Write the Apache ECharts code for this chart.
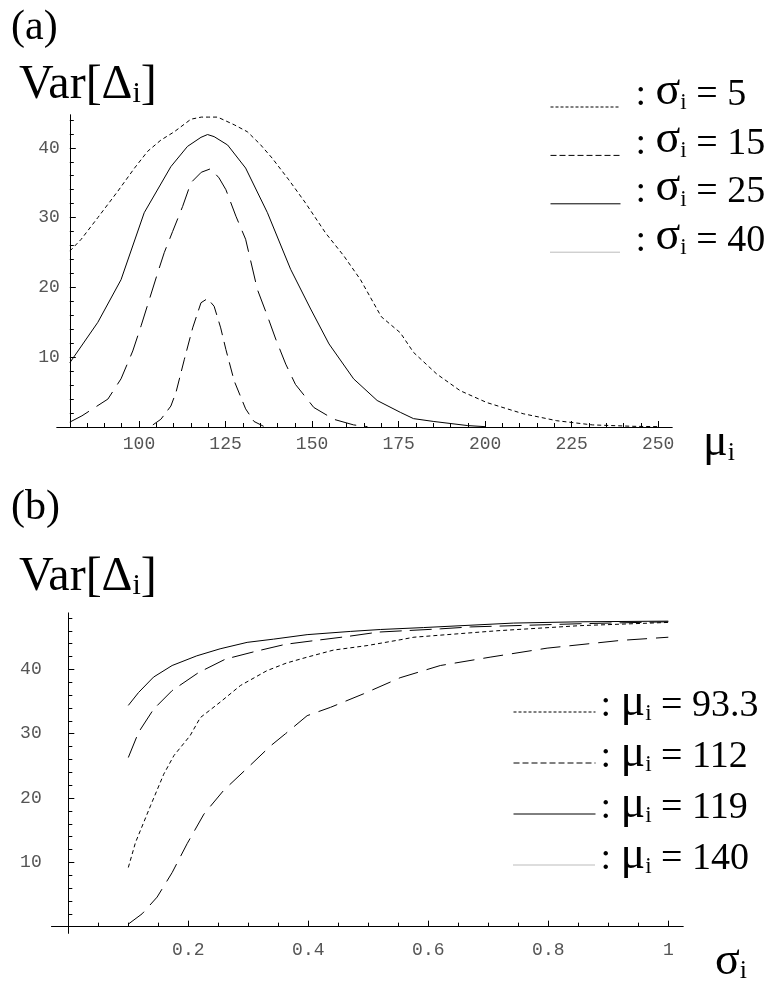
<!DOCTYPE html>
<html><head><meta charset="utf-8">
<script src="https://cdn.jsdelivr.net/npm/echarts@6/dist/echarts.min.js"></script>
<style>html,body{margin:0;padding:0;background:#fff}#c{width:776px;height:983px}</style>
</head><body><div id="c"></div>
<script>
// ---------- (a) Var[Δi] versus μi ----------
const muA_s5  = [80, 83.3, 88.1, 93.9, 98.7, 102.5, 106.3, 110.2, 115, 118, 120, 122.7, 127.5, 131.3, 135, 138.5, 143.3, 148.1, 153.9, 159.2, 164, 170, 175.5, 179.3, 186, 192.8, 200.5, 211, 220.7, 231, 242.7, 250];
const varA_s5 = [25.2, 26.9, 30.0, 33.8, 37.1, 39.5, 41.1, 42.3, 44.1, 44.4, 44.4, 44.4, 43.3, 42.3, 40.5, 38.5, 35.4, 32.1, 27.8, 24.5, 21.1, 15.8, 13.5, 10.7, 7.6, 5.2, 3.5, 1.9, 0.9, 0.3, 0.1, 0.05];
const muA_s15  = [104, 106.3, 109.2, 110.7, 113.1, 115.5, 117.9, 119.8, 121.7, 123.6, 125.1, 127.5, 130.8, 133.2, 136];
const varA_s15 = [0.3, 1.1, 3.0, 5.0, 9.7, 14.2, 17.8, 18.4, 17.3, 14.2, 11.1, 6.6, 2.6, 0.8, 0.1];
const muA_s25  = [80, 88.1, 94.8, 101.5, 109.2, 114, 117.9, 119.8, 121.7, 125.6, 130.8, 137.1, 143.8, 149.6, 154.9, 162, 168.8, 175.5, 179.3, 185, 195, 200];
const varA_s25 = [9.2, 15.0, 21.1, 30.7, 37.3, 40.2, 41.5, 41.9, 41.6, 40.4, 37.1, 30.7, 22.6, 16.9, 11.9, 6.9, 3.8, 2.1, 1.2, 0.8, 0.2, 0.05];
const muA_s40  = [80, 83.5, 91, 94.8, 98.2, 100.6, 103, 105.4, 107.3, 109.7, 112.6, 115, 118, 120.7, 123.1, 125.1, 128, 130.8, 134.2, 137.1, 139.5, 142.4, 145.2, 150.5, 156.3, 162, 166];
const varA_s40 = [0.7, 1.6, 4.0, 6.9, 10.9, 14.5, 18.3, 22.1, 25.0, 28.0, 31.6, 35.0, 36.5, 37.0, 35.7, 34.0, 30.2, 26.9, 19.7, 15.9, 12.6, 9.0, 6.1, 2.8, 1.1, 0.3, 0.05];
const legendA = ['σi = 5', 'σi = 15', 'σi = 25', 'σi = 40'];
const xTicksA = [100, 125, 150, 175, 200, 225, 250];
const xMinorA = [85, 90, 95, 105, 110, 115, 120, 130, 135, 140, 145, 155, 160, 165, 170, 180, 185, 190, 195, 205, 210, 215, 220, 230, 235, 240, 245];
const yTicksA = [10, 20, 30, 40];
const yMinorA = [2, 4, 6, 8, 12, 14, 16, 18, 22, 24, 26, 28, 32, 34, 36, 38, 42, 44];

// ---------- (b) Var[Δi] versus σi ----------
const sgB_m93  = [0.1, 0.112, 0.137, 0.159, 0.176, 0.203, 0.22, 0.253, 0.287, 0.331, 0.364, 0.398, 0.442, 0.498, 0.553, 0.576, 0.714, 0.853, 1.0];
const varB_m93 = [9.2, 13.1, 18.8, 23.7, 26.6, 29.7, 32.5, 34.9, 37.5, 39.8, 41.0, 41.9, 43.0, 43.7, 44.6, 45.0, 46.0, 46.8, 47.3];
const sgB_m112  = [0.1, 0.117, 0.142, 0.173, 0.217, 0.262, 0.312, 0.362, 0.412, 0.464, 0.517, 0.62, 0.67, 0.853, 1.0];
const varB_m112 = [26.3, 30.2, 33.8, 36.7, 39.5, 41.6, 42.8, 43.9, 44.5, 45.1, 45.8, 46.3, 46.6, 47.1, 47.4];
const sgB_m119  = [0.1, 0.117, 0.142, 0.173, 0.214, 0.253, 0.298, 0.342, 0.398, 0.47, 0.52, 0.592, 0.742, 0.853, 1.0];
const varB_m119 = [34.4, 36.4, 38.8, 40.6, 42.1, 43.2, 44.2, 44.7, 45.4, 45.9, 46.2, 46.5, 47.2, 47.4, 47.5];
const sgB_m140  = [0.1, 0.123, 0.148, 0.173, 0.198, 0.226, 0.259, 0.30, 0.337, 0.362, 0.398, 0.437, 0.492, 0.553, 0.62, 0.703, 0.798, 0.92, 1.0];
const varB_m140 = [0.4, 2.0, 4.6, 8.4, 12.9, 17.5, 21.2, 24.8, 28.1, 30.0, 32.8, 34.1, 36.2, 38.7, 40.6, 41.9, 43.3, 44.5, 45.0];
const legendB = ['μi = 93.3', 'μi = 112', 'μi = 119', 'μi = 140'];
const xTicksB = [0.2, 0.4, 0.6, 0.8, 1];
const xMinorB = [0.05, 0.1, 0.15, 0.25, 0.3, 0.35, 0.45, 0.5, 0.55, 0.65, 0.7, 0.75, 0.85, 0.9, 0.95];
const yTicksB = [10, 20, 30, 40];
const yMinorB = [2, 4, 6, 8, 12, 14, 16, 18, 22, 24, 26, 28, 32, 34, 36, 38, 42, 44, 46, 48];

const zip = (xs, ys) => xs.map((x, i) => [x, ys[i]]);
const SERIF = 'Liberation Serif';
const MONO = 'Liberation Mono';

function axes(dim, gridIndex, min, max, major, minor, offset) {
  const base = {
    type: 'value', gridIndex, min, max, offset: offset || 0,
    position: dim === 'x' ? 'bottom' : 'left',
    axisLine: { show: true, lineStyle: { color: '#000', width: 1 } },
    splitLine: { show: false }
  };
  const a = Object.assign({}, base, {
    axisTick: { show: true, inside: true, length: 6, customValues: major, lineStyle: { color: '#000', width: 1 } },
    axisLabel: { show: true, customValues: major, margin: dim === 'x' ? 8 : 10, color: '#555',
                 fontFamily: MONO, fontSize: 18, formatter: v => String(v) }
  });
  const b = Object.assign({}, base, {
    axisTick: { show: true, inside: true, length: 4, customValues: minor, lineStyle: { color: '#000', width: 1 } },
    axisLabel: { show: false }
  });
  return [a, b];
}

const xA = axes('x', 0, 76.3, 254, xTicksA, xMinorA, 0);
const yA = axes('y', 0, 0, 44.7, yTicksA, yMinorA, -12.8);
const xB = axes('x', 1, -0.0277, 1.0245, xTicksB, xMinorB, 0);
const yB = axes('y', 1, -1, 48.75, yTicksB, yMinorB, 0);

const nameRich = {
  m: { fontFamily: SERIF, fontSize: 46, lineHeight: 46, color: '#000' },
  s: { fontFamily: SERIF, fontSize: 26, lineHeight: 22, verticalAlign: 'bottom', color: '#000' }
};
xA[0].name = '{m|μ}{s|i}';
xA[0].nameLocation = 'end';
xA[0].nameGap = 31;
xA[0].nameTextStyle = { fontFamily: SERIF, fontSize: 46, lineHeight: 46, color: '#000', align: 'left', verticalAlign: 'middle', padding: [32, 0, 0, 0], rich: nameRich };
xB[0].name = '{m|σ}{s|i}';
xB[0].nameLocation = 'end';
xB[0].nameGap = 32;
xB[0].nameTextStyle = { fontFamily: SERIF, fontSize: 46, lineHeight: 46, color: '#000', align: 'left', verticalAlign: 'middle', padding: [70, 0, 0, 0], rich: nameRich };

function line(name, xi, yi, xs, ys, type) {
  return { type: 'line', name, xAxisIndex: xi, yAxisIndex: yi, data: zip(xs, ys),
    symbol: 'none', showSymbol: false, silent: true, clip: true,
    lineStyle: { color: '#000', width: 1, type } };
}

function legendFmt(name) {
  const parts = name.split(' = ');
  return ': {g|' + parts[0].charAt(0) + '}{s|i} = ' + parts[1];
}
const legendRich = {
  g: { fontFamily: SERIF, fontSize: 46, lineHeight: 30, verticalAlign: 'bottom', color: '#000' },
  s: { fontFamily: SERIF, fontSize: 23, lineHeight: 16, verticalAlign: 'bottom', color: '#000' }
};

const option = {
  animation: false,
  backgroundColor: '#fff',
  title: [
    { text: '(a)', left: 11, top: 7, padding: 0, textStyle: { fontFamily: SERIF, fontSize: 42, lineHeight: 42, fontWeight: 'normal', color: '#000' } },
    { text: 'Var[Δ{s|i}]', left: 19, top: 61, padding: 0, textStyle: { fontFamily: SERIF, fontSize: 48, lineHeight: 48, fontWeight: 'normal', color: '#000',
      rich: { s: { fontFamily: SERIF, fontSize: 30, lineHeight: 24, verticalAlign: 'bottom', color: '#000' } } } },
    { text: '(b)', left: 11, top: 487, padding: 0, textStyle: { fontFamily: SERIF, fontSize: 42, lineHeight: 42, fontWeight: 'normal', color: '#000' } },
    { text: 'Var[Δ{s|i}]', left: 19, top: 553, padding: 0, textStyle: { fontFamily: SERIF, fontSize: 48, lineHeight: 48, fontWeight: 'normal', color: '#000',
      rich: { s: { fontFamily: SERIF, fontSize: 30, lineHeight: 24, verticalAlign: 'bottom', color: '#000' } } } }
  ],
  grid: [
    { left: 57, top: 115, width: 615, height: 312, containLabel: false, outerBoundsMode: 'none' },
    { left: 51.7, top: 613.1, width: 631.3, height: 320, containLabel: false, outerBoundsMode: 'none' }
  ],
  xAxis: [xA[0], xA[1], xB[0], xB[1]],
  yAxis: [yA[0], yA[1], yB[0], yB[1]],
  legend: [
    { orient: 'vertical', left: 550, top: 68.5, padding: 0, itemWidth: 70, itemHeight: 2, itemGap: -20.6, selectedMode: false,
      itemStyle: { color: 'rgba(0,0,0,0)', borderWidth: 0, opacity: 0 },
      data: [
        { name: legendA[0], lineStyle: { color: '#000', width: 1, type: [3, 2] } },
        { name: legendA[1], lineStyle: { color: '#000', width: 1, type: [6, 3] } },
        { name: legendA[2], lineStyle: { color: '#000', width: 1, type: 'solid' } },
        { name: legendA[3], lineStyle: { color: '#777', width: 1, type: [1, 1] } }
      ],
      formatter: legendFmt,
      textStyle: { fontFamily: SERIF, fontSize: 38, lineHeight: 38, color: '#000', padding: [0, 0, 23, 10], rich: legendRich } },
    { orient: 'vertical', left: 513, top: 679.5, padding: 0, itemWidth: 82, itemHeight: 2, itemGap: -6, selectedMode: false,
      itemStyle: { color: 'rgba(0,0,0,0)', borderWidth: 0, opacity: 0 },
      data: [
        { name: legendB[0], lineStyle: { color: '#000', width: 1, type: [3, 2] } },
        { name: legendB[1], lineStyle: { color: '#000', width: 1, type: [6, 3] } },
        { name: legendB[2], lineStyle: { color: '#000', width: 1, type: 'solid' } },
        { name: legendB[3], lineStyle: { color: '#777', width: 1, type: [1, 1] } }
      ],
      formatter: legendFmt,
      textStyle: { fontFamily: SERIF, fontSize: 38, lineHeight: 38, color: '#000', padding: [0, 0, 11, 0], rich: legendRich } }
  ],
  series: [
    line(legendA[0], 0, 0, muA_s5, varA_s5, [4, 3]),
    line(legendA[1], 0, 0, muA_s15, varA_s15, [14, 7]),
    line(legendA[2], 0, 0, muA_s25, varA_s25, 'solid'),
    line(legendA[3], 0, 0, muA_s40, varA_s40, [22, 9]),
    line(legendB[0], 2, 2, sgB_m93, varB_m93, [4, 3]),
    line(legendB[1], 2, 2, sgB_m112, varB_m112, [22, 8]),
    line(legendB[2], 2, 2, sgB_m119, varB_m119, 'solid'),
    line(legendB[3], 2, 2, sgB_m140, varB_m140, [20, 9])
  ]
};

const chart = echarts.init(document.getElementById('c'), null, { renderer: 'canvas' });
chart.setOption(option);
</script>
</body></html>
